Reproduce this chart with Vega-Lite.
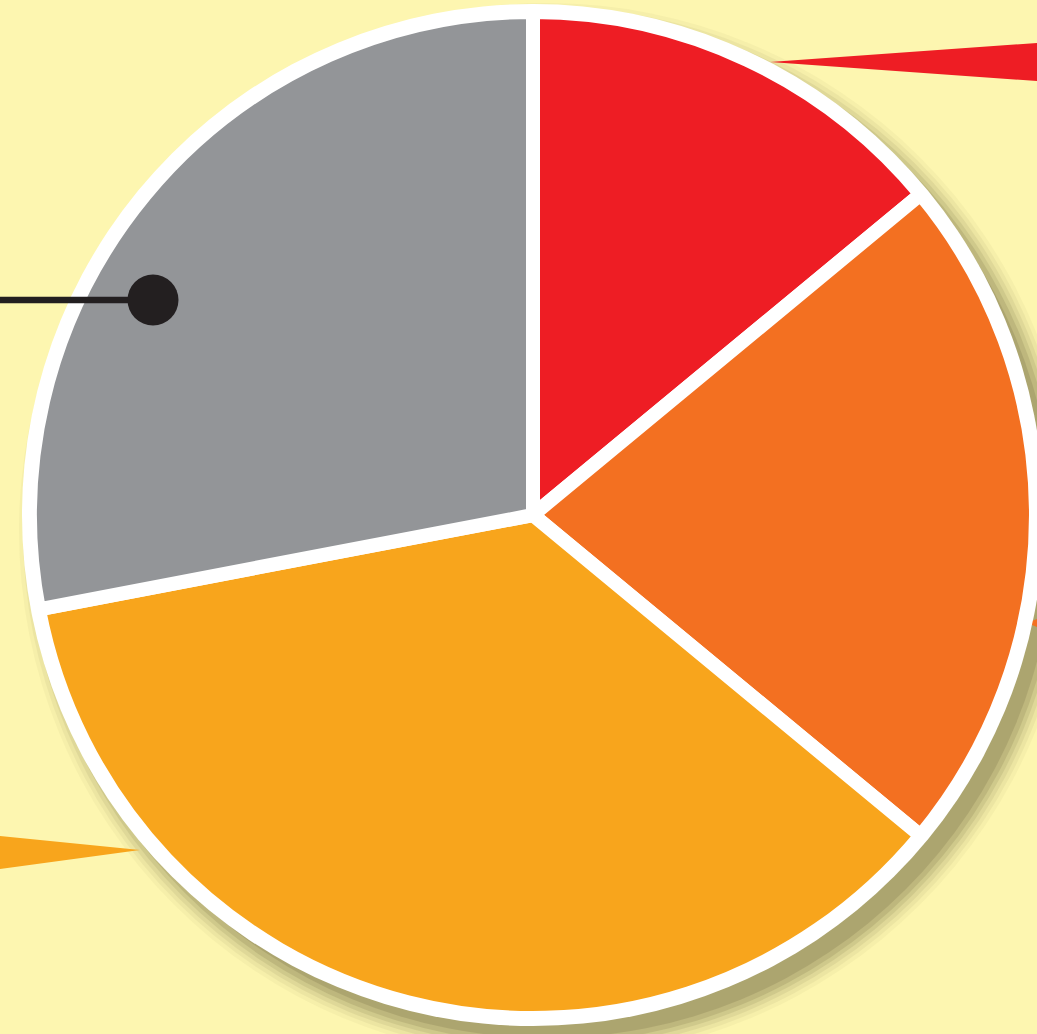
{
  "$schema": "https://vega.github.io/schema/vega-lite/v6.json",
  "width": 1037,
  "height": 1034,
  "autosize": {"type": "none"},
  "padding": 0,
  "background": "#FDF6B0",
  "config": {"view": {"stroke": null}},
  "datasets": {
    "slices": [
      {"category": "Red", "share": 14, "order": 1},
      {"category": "Orange", "share": 22, "order": 2},
      {"category": "Amber", "share": 36, "order": 3},
      {"category": "Gray", "share": 28, "order": 4}
    ],
    "center": [{"cx": 0, "cy": 0}],
    "shadow": [{"cx": 14, "cy": -16}],
    "redPointer": [
      {"x": 237, "y": 453, "y2": 453},
      {"x": 504, "y": 472, "y2": 434}
    ],
    "amberPointer": [
      {"x": -533, "y": -321, "y2": -354},
      {"x": -393, "y": -335, "y2": -335}
    ],
    "orangePointer": [
      {"x": 494, "y": -108, "y2": -108},
      {"x": 504, "y": -104, "y2": -112}
    ],
    "leader": [{"x": -533, "x2": -380, "y": 215}],
    "dot": [{"x": -380, "y": 215}]
  },
  "layer": [
    {
      "data": {"name": "shadow"},
      "mark": {"type": "arc", "theta": 0, "theta2": 6.2832, "radius": 528, "color": "#8C8455", "opacity": 0.06},
      "encoding": {
        "x": {"field": "cx", "type": "quantitative", "scale": {"domain": [-533, 504], "nice": false, "zero": false}, "axis": null},
        "y": {"field": "cy", "type": "quantitative", "scale": {"domain": [-519, 515], "nice": false, "zero": false}, "axis": null}
      }
    },
    {
      "data": {"name": "shadow"},
      "mark": {"type": "arc", "theta": 0, "theta2": 6.2832, "radius": 524, "color": "#8C8455", "opacity": 0.09},
      "encoding": {
        "x": {"field": "cx", "type": "quantitative", "scale": {"domain": [-533, 504], "nice": false, "zero": false}, "axis": null},
        "y": {"field": "cy", "type": "quantitative", "scale": {"domain": [-519, 515], "nice": false, "zero": false}, "axis": null}
      }
    },
    {
      "data": {"name": "shadow"},
      "mark": {"type": "arc", "theta": 0, "theta2": 6.2832, "radius": 520, "color": "#8C8455", "opacity": 0.13},
      "encoding": {
        "x": {"field": "cx", "type": "quantitative", "scale": {"domain": [-533, 504], "nice": false, "zero": false}, "axis": null},
        "y": {"field": "cy", "type": "quantitative", "scale": {"domain": [-519, 515], "nice": false, "zero": false}, "axis": null}
      }
    },
    {
      "data": {"name": "shadow"},
      "mark": {"type": "arc", "theta": 0, "theta2": 6.2832, "radius": 516, "color": "#8C8455", "opacity": 0.18},
      "encoding": {
        "x": {"field": "cx", "type": "quantitative", "scale": {"domain": [-533, 504], "nice": false, "zero": false}, "axis": null},
        "y": {"field": "cy", "type": "quantitative", "scale": {"domain": [-519, 515], "nice": false, "zero": false}, "axis": null}
      }
    },
    {
      "data": {"name": "shadow"},
      "mark": {"type": "arc", "theta": 0, "theta2": 6.2832, "radius": 512, "color": "#8C8455", "opacity": 0.25},
      "encoding": {
        "x": {"field": "cx", "type": "quantitative", "scale": {"domain": [-533, 504], "nice": false, "zero": false}, "axis": null},
        "y": {"field": "cy", "type": "quantitative", "scale": {"domain": [-519, 515], "nice": false, "zero": false}, "axis": null}
      }
    },
    {
      "data": {"name": "shadow"},
      "mark": {"type": "arc", "theta": 0, "theta2": 6.2832, "radius": 507, "color": "#8C8455", "opacity": 0.35},
      "encoding": {
        "x": {"field": "cx", "type": "quantitative", "scale": {"domain": [-533, 504], "nice": false, "zero": false}, "axis": null},
        "y": {"field": "cy", "type": "quantitative", "scale": {"domain": [-519, 515], "nice": false, "zero": false}, "axis": null}
      }
    },
    {
      "data": {"name": "redPointer"},
      "mark": {"type": "area", "color": "#EE1D24"},
      "encoding": {
        "x": {"field": "x", "type": "quantitative", "scale": {"domain": [-533, 504], "nice": false, "zero": false}, "axis": null},
        "y": {"field": "y", "type": "quantitative", "scale": {"domain": [-519, 515], "nice": false, "zero": false}, "axis": null},
        "y2": {"field": "y2"}
      }
    },
    {
      "data": {"name": "amberPointer"},
      "mark": {"type": "area", "color": "#F8A51C"},
      "encoding": {
        "x": {"field": "x", "type": "quantitative", "scale": {"domain": [-533, 504], "nice": false, "zero": false}, "axis": null},
        "y": {"field": "y", "type": "quantitative", "scale": {"domain": [-519, 515], "nice": false, "zero": false}, "axis": null},
        "y2": {"field": "y2"}
      }
    },
    {
      "data": {"name": "orangePointer"},
      "mark": {"type": "area", "color": "#F37021"},
      "encoding": {
        "x": {"field": "x", "type": "quantitative", "scale": {"domain": [-533, 504], "nice": false, "zero": false}, "axis": null},
        "y": {"field": "y", "type": "quantitative", "scale": {"domain": [-519, 515], "nice": false, "zero": false}, "axis": null},
        "y2": {"field": "y2"}
      }
    },
    {
      "data": {"name": "center"},
      "mark": {"type": "arc", "theta": 0, "theta2": 6.2832, "radius": 511, "color": "#FFFFFF"},
      "encoding": {
        "x": {"field": "cx", "type": "quantitative", "scale": {"domain": [-533, 504], "nice": false, "zero": false}, "axis": null},
        "y": {"field": "cy", "type": "quantitative", "scale": {"domain": [-519, 515], "nice": false, "zero": false}, "axis": null}
      }
    },
    {
      "data": {"name": "slices"},
      "transform": [{"calculate": "0", "as": "cx"}, {"calculate": "0", "as": "cy"}],
      "mark": {"type": "arc", "radius": 503, "stroke": "#FFFFFF", "strokeWidth": 14, "strokeJoin": "round"},
      "encoding": {
        "theta": {"field": "share", "type": "quantitative", "stack": true},
        "order": {"field": "order", "type": "quantitative", "sort": "ascending"},
        "color": {
          "field": "category",
          "type": "nominal",
          "scale": {"domain": ["Red", "Orange", "Amber", "Gray"], "range": ["#EE1D24", "#F37021", "#F8A51C", "#939598"]},
          "legend": null
        },
        "x": {"field": "cx", "type": "quantitative", "scale": {"domain": [-533, 504], "nice": false, "zero": false}, "axis": null},
        "y": {"field": "cy", "type": "quantitative", "scale": {"domain": [-519, 515], "nice": false, "zero": false}, "axis": null}
      }
    },
    {
      "data": {"name": "leader"},
      "mark": {"type": "rule", "color": "#231F20", "strokeWidth": 6.5},
      "encoding": {
        "x": {"field": "x", "type": "quantitative", "scale": {"domain": [-533, 504], "nice": false, "zero": false}, "axis": null},
        "x2": {"field": "x2"},
        "y": {"field": "y", "type": "quantitative", "scale": {"domain": [-519, 515], "nice": false, "zero": false}, "axis": null}
      }
    },
    {
      "data": {"name": "dot"},
      "mark": {"type": "point", "shape": "circle", "filled": true, "size": 2600, "color": "#231F20", "opacity": 1},
      "encoding": {
        "x": {"field": "x", "type": "quantitative", "scale": {"domain": [-533, 504], "nice": false, "zero": false}, "axis": null},
        "y": {"field": "y", "type": "quantitative", "scale": {"domain": [-519, 515], "nice": false, "zero": false}, "axis": null}
      }
    }
  ]
}
